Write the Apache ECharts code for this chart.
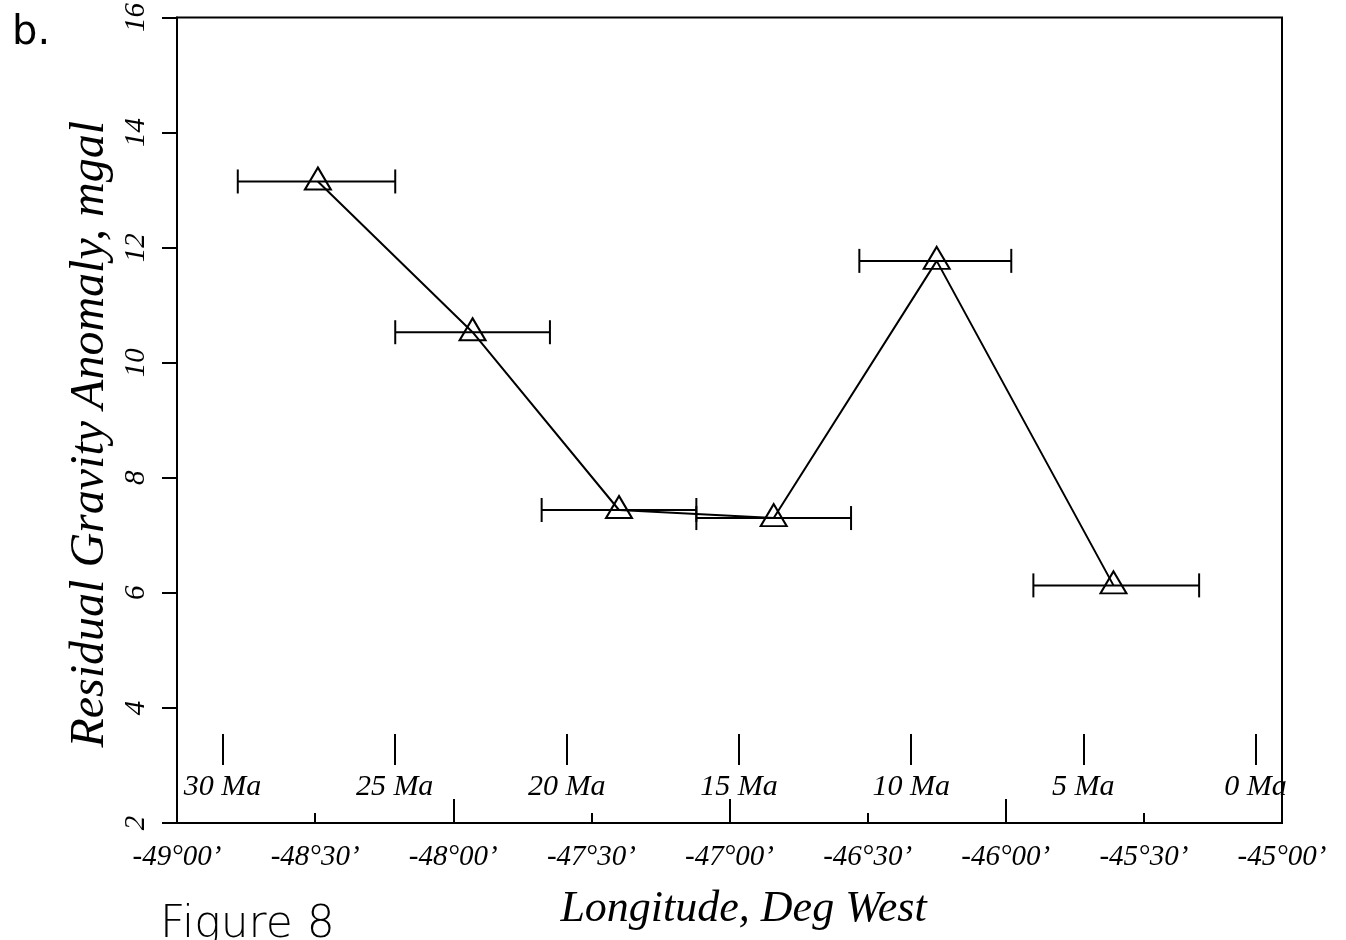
<!DOCTYPE html>
<html style="height: 100%">
<head>
  <meta charset="utf-8">
  <script type="text/javascript" src="https://cdn.jsdelivr.net/npm/echarts@6/dist/echarts.min.js"></script>
</head>
<body style="height: 100%; margin: 0; background: #fff">
  <div id="container" style="width: 1346px; height: 940px"></div>
  <script type="text/javascript">
    // longitude (decimal deg) and residual gravity anomaly (mgal)
    var lon = [-48.49, -47.93, -47.40, -46.84, -46.25, -45.61];
    var anomaly = [13.15, 10.53, 7.44, 7.30, 11.77, 6.13];
    // horizontal error bar ends
    var lonLow = [-48.78, -48.21, -47.68, -47.12, -46.53, -45.90];
    var lonHigh = [-48.21, -47.65, -47.12, -46.56, -45.98, -45.30];
    // crustal age ticks (Ma), read on a second scale
    var ageTicks = [0, 5, 10, 15, 20, 25, 30];
    var lonLabels = [-49, -48.5, -48, -47.5, -47, -46.5, -46, -45.5, -45];

    var FONT = 'Liberation Serif';

    function degMin(v) {
      var a = Math.abs(v);
      var d = Math.floor(a + 1e-9);
      var m = Math.round((a - d) * 60);
      return (v < 0 ? '-' : '') + d + '\u00b0' + (m < 10 ? '0' : '') + m + '\u2019';
    }

    var points = lon.map(function (x, i) { return [x, anomaly[i]]; });
    var bars = lon.map(function (x, i) { return [i, lonLow[i], lonHigh[i], anomaly[i]]; });

    var dom = document.getElementById('container');
    var myChart = echarts.init(dom, null, { renderer: 'canvas' });

    var option = {
      animation: false,
      backgroundColor: '#fff',
      textStyle: { fontFamily: FONT },
      grid: {
        left: 177,
        top: 10,
        width: 1105,
        height: 813,
        show: true,
        borderColor: '#000',
        borderWidth: 2,
        backgroundColor: 'transparent'
      },
      graphic: [
        {
          type: 'text', left: 12, top: 14,
          style: { text: 'b.', fontSize: 40, fontFamily: 'DejaVu Sans', fill: '#000' }
        },
        {
          type: 'text', left: 160, top: 904,
          style: { text: 'Figure 8', fontSize: 44, fontFamily: 'DejaVu Sans', fontWeight: 'lighter', fill: '#000' }
        }
      ],
      xAxis: [
        {
          type: 'value',
          min: -49,
          max: -45,
          interval: 1,
          name: 'Longitude, Deg West',
          nameLocation: 'middle',
          nameGap: 64,
          nameTextStyle: {
            fontFamily: FONT, fontStyle: 'italic', fontSize: 44, color: '#000',
            padding: [0, 0, 0, 28]
          },
          axisLine: { show: true, onZero: false, lineStyle: { color: '#000', width: 2 } },
          axisTick: { show: true, inside: true, length: 24, lineStyle: { color: '#000', width: 2 } },
          minorTick: { show: true, splitNumber: 2, length: 10, lineStyle: { color: '#000', width: 2 } },
          splitLine: { show: false },
          axisLabel: {
            customValues: lonLabels,
            formatter: degMin,
            margin: 20,
            fontFamily: FONT,
            fontStyle: 'italic',
            fontSize: 29,
            color: '#000'
          }
        },
        {
          // age scale drawn inside the plot above the longitude axis
          type: 'value',
          gridIndex: 0,
          position: 'bottom',
          offset: -58,
          inverse: true,
          min: -0.77,
          max: 31.32,
          axisLine: { show: false, onZero: false },
          axisTick: { show: true, customValues: ageTicks, inside: true, length: 31, lineStyle: { color: '#000', width: 2 } },
          splitLine: { show: false },
          axisLabel: {
            customValues: ageTicks,
            formatter: function (v) { return v + ' Ma'; },
            margin: 7,
            fontFamily: FONT,
            fontStyle: 'italic',
            fontSize: 30,
            color: '#000'
          }
        }
      ],
      yAxis: {
        type: 'value',
        min: 2,
        max: 16,
        interval: 2,
        name: 'Residual Gravity Anomaly, mgal',
        nameLocation: 'middle',
        nameRotate: 90,
        nameGap: 62,
        nameTextStyle: {
          fontFamily: FONT, fontStyle: 'italic', fontSize: 48, color: '#000',
          padding: [0, 28, 0, 0]
        },
        axisLine: { show: true, onZero: false, lineStyle: { color: '#000', width: 2 } },
        axisTick: { show: true, inside: false, length: 15, lineStyle: { color: '#000', width: 2 } },
        splitLine: { show: false },
        axisLabel: {
          rotate: 90,
          margin: 26,
          fontFamily: FONT,
          fontStyle: 'italic',
          fontSize: 29,
          color: '#000'
        }
      },
      series: [
        {
          type: 'custom',
          xAxisIndex: 0,
          encode: { x: [1, 2], y: 3 },
          data: bars,
          z: 2,
          renderItem: function (params, api) {
            var a = api.coord([api.value(1), api.value(3)]);
            var b = api.coord([api.value(2), api.value(3)]);
            var h = 12;
            var st = { stroke: '#000', lineWidth: 2 };
            return {
              type: 'group',
              children: [
                { type: 'line', shape: { x1: a[0], y1: a[1], x2: b[0], y2: b[1] }, style: st },
                { type: 'line', shape: { x1: a[0], y1: a[1] - h, x2: a[0], y2: a[1] + h }, style: st },
                { type: 'line', shape: { x1: b[0], y1: b[1] - h, x2: b[0], y2: b[1] + h }, style: st }
              ]
            };
          }
        },
        {
          type: 'line',
          xAxisIndex: 0,
          data: points,
          z: 3,
          symbol: 'triangle',
          symbolSize: [26, 22],
          symbolOffset: [0, -3],
          showAllSymbol: true,
          lineStyle: { color: '#000', width: 2 },
          itemStyle: { color: 'rgba(255,255,255,0)', borderColor: '#000', borderWidth: 2 }
        }
      ]
    };

    myChart.setOption(option);
  </script>
</body>
</html>
